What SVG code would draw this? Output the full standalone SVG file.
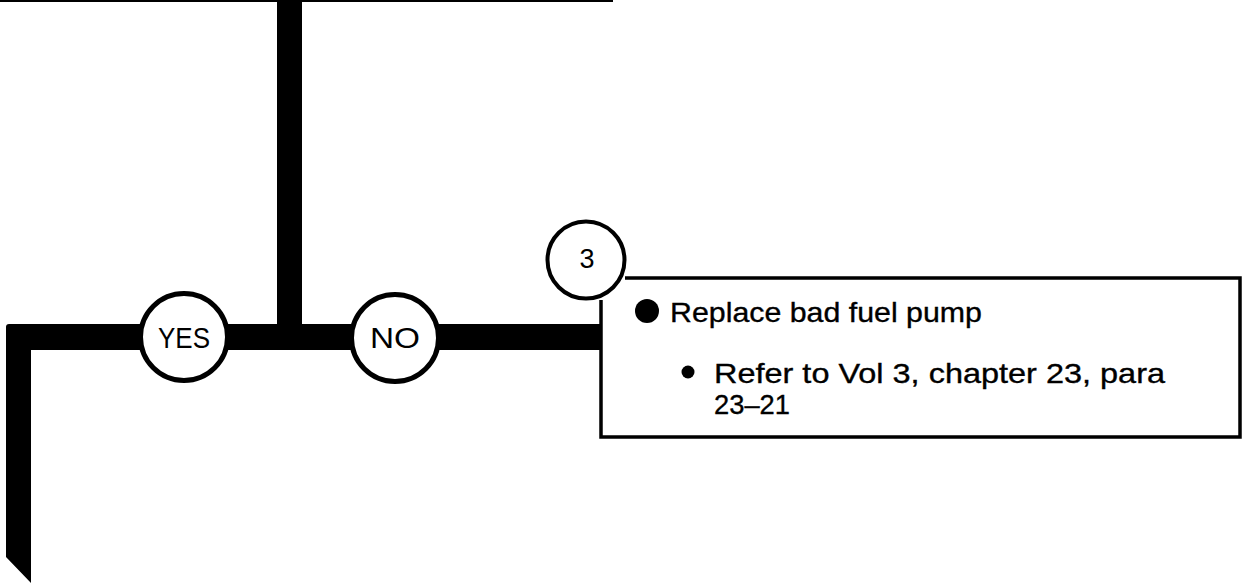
<svg xmlns="http://www.w3.org/2000/svg" width="1245" height="583" viewBox="0 0 1245 583">
<style>
.t{font-family:"Liberation Sans",Arial,sans-serif;fill:#000}
.b{stroke:#000;stroke-width:0.35}
.c{fill:#fff;stroke:#000;stroke-width:5}
.bar{fill:#000}
</style>
<rect width="1245" height="583" fill="#fff"/>
<g id="connectors">
<rect x="0" y="0" width="613" height="2" class="bar"/>
<rect x="277" y="0" width="25" height="350" class="bar"/>
<path class="bar" d="M9 324 L600 324 L600 350 L31 350 L31 583 L6 557 L6 327 Q6 324 9 324 Z"/>
<path d="M601 300 L601 437 L1240 437 L1240 278 L625 278" fill="none" stroke="#000" stroke-width="3.5"/>
</g>
<g id="yes">
<circle cx="184" cy="337" r="43.5" class="c"/>
<text x="184" y="348" text-anchor="middle" class="t" font-size="30" textLength="52" lengthAdjust="spacingAndGlyphs">YES</text>
</g>
<g id="no">
<circle cx="395" cy="338" r="43.5" class="c"/>
<text x="395" y="348" text-anchor="middle" class="t" font-size="29" textLength="50" lengthAdjust="spacingAndGlyphs">NO</text>
</g>
<g id="step3">
<circle cx="586" cy="260" r="38.5" fill="#fff" stroke="#000" stroke-width="4"/>
<text x="587" y="268" text-anchor="middle" class="t" font-size="27">3</text>
</g>
<g id="action">
<circle cx="647" cy="311" r="12" fill="#000"/>
<text x="670" y="322" class="t b" font-size="28" textLength="312" lengthAdjust="spacingAndGlyphs">Replace bad fuel pump</text>
<circle cx="688" cy="372" r="6.5" fill="#000"/>
<text x="714" y="383" class="t b" font-size="28" textLength="451" lengthAdjust="spacingAndGlyphs">Refer to Vol 3, chapter 23, para</text>
<text x="714" y="414" class="t b" font-size="28" textLength="76" lengthAdjust="spacingAndGlyphs">23–21</text>
</g>
</svg>
